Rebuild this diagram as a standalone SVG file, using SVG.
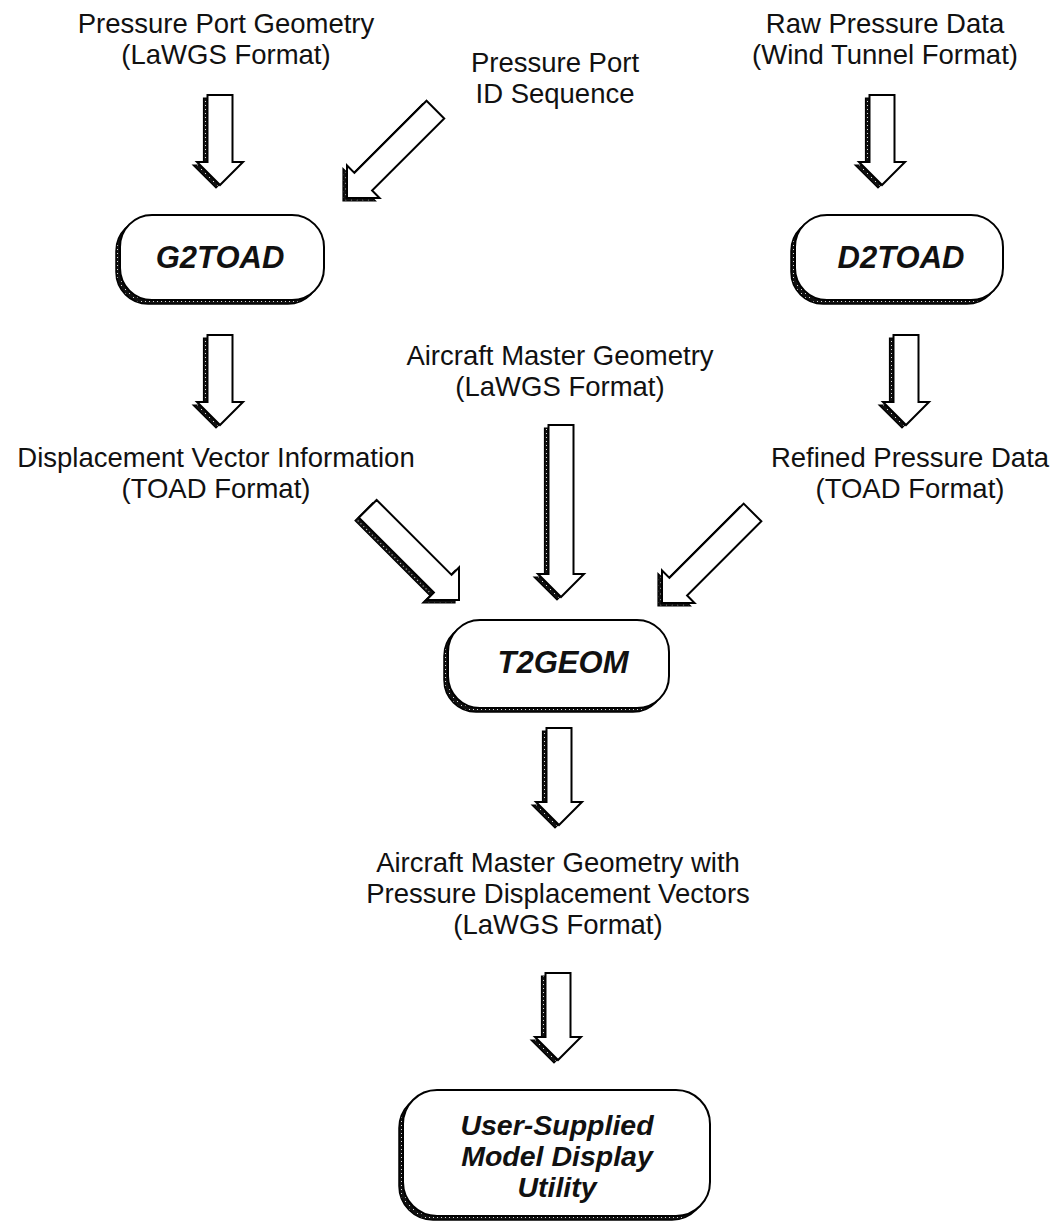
<svg xmlns="http://www.w3.org/2000/svg" width="1057" height="1224" viewBox="0 0 1057 1224">
  <defs>
    <pattern id="shade" width="4" height="4" patternUnits="userSpaceOnUse">
      <rect width="4" height="4" fill="#111"/>
      <rect x="1" y="1" width="1" height="1" fill="#ddd"/>
    </pattern>
  </defs>
  <style>
    .lbl { font-family: "Liberation Sans", Arial, Helvetica, sans-serif; font-size: 27.5px; fill: #111; text-anchor: middle; }
    .proc { font-family: "Liberation Sans", Arial, Helvetica, sans-serif; font-size: 31px; font-weight: bold; font-style: italic; fill: #111; text-anchor: middle; }
    .proc2 { font-family: "Liberation Sans", Arial, Helvetica, sans-serif; font-size: 28.5px; font-weight: bold; font-style: italic; fill: #111; text-anchor: middle; }
    .shadow { fill: url(#shade); stroke: #000; stroke-width: 1.5; }
    .box { fill: #fff; stroke: #000; stroke-width: 2; }
    .ashadow { fill: url(#shade); stroke: #000; stroke-width: 1.2; }
    .arrow { fill: #fff; stroke: #000; stroke-width: 2; stroke-linejoin: miter; }
  </style>
  <rect width="1057" height="1224" fill="#fff"/>

  <!-- data labels -->
  <g id="label-pressure-port-geometry">
    <text class="lbl" x="226" y="33">Pressure Port Geometry</text>
    <text class="lbl" x="226" y="64">(LaWGS Format)</text>
  </g>
  <g id="label-port-id-sequence">
    <text class="lbl" x="555" y="72">Pressure Port</text>
    <text class="lbl" x="555" y="103">ID Sequence</text>
  </g>
  <g id="label-raw-pressure-data">
    <text class="lbl" x="885" y="33">Raw Pressure Data</text>
    <text class="lbl" x="885" y="64">(Wind Tunnel Format)</text>
  </g>
  <g id="label-aircraft-master-geometry">
    <text class="lbl" x="560" y="365">Aircraft Master Geometry</text>
    <text class="lbl" x="560" y="396">(LaWGS Format)</text>
  </g>
  <g id="label-displacement-vector">
    <text class="lbl" x="216" y="467">Displacement Vector Information</text>
    <text class="lbl" x="216" y="498">(TOAD Format)</text>
  </g>
  <g id="label-refined-pressure-data">
    <text class="lbl" x="910" y="467">Refined Pressure Data</text>
    <text class="lbl" x="910" y="498">(TOAD Format)</text>
  </g>
  <g id="label-master-with-vectors">
    <text class="lbl" x="558" y="872">Aircraft Master Geometry with</text>
    <text class="lbl" x="558" y="903">Pressure Displacement Vectors</text>
    <text class="lbl" x="558" y="934">(LaWGS Format)</text>
  </g>

  <!-- process nodes -->
  <g id="node-g2toad">
    <rect class="shadow" x="116" y="219" width="204" height="85" rx="32"/>
    <rect class="box" x="120" y="215" width="204" height="85" rx="32"/>
    <text class="proc" x="220" y="268">G2TOAD</text>
  </g>
  <g id="node-d2toad">
    <rect class="shadow" x="791" y="219" width="208" height="85" rx="32"/>
    <rect class="box" x="795" y="215" width="208" height="85" rx="32"/>
    <text class="proc" x="901" y="268">D2TOAD</text>
  </g>
  <g id="node-t2geom">
    <rect class="shadow" x="444" y="624" width="221" height="88" rx="32"/>
    <rect class="box" x="448" y="620" width="221" height="88" rx="32"/>
    <text class="proc" x="563" y="673">T2GEOM</text>
  </g>
  <g id="node-display-utility">
    <rect class="shadow" x="399" y="1094" width="307" height="126" rx="34"/>
    <rect class="box" x="403" y="1090" width="307" height="126" rx="34"/>
    <text class="proc2" x="557" y="1135">User-Supplied</text>
    <text class="proc2" x="557" y="1166">Model Display</text>
    <text class="proc2" x="557" y="1197">Utility</text>
  </g>

  <!-- connectors: hollow block arrows, tip at local origin pointing +y -->
  <g id="connectors">
    <g transform="translate(220,185)">
      <path class="ashadow" transform="translate(-4,3)" d="M-12.5,-90 L12.5,-90 L12.5,-23 L23,-23 L0,0 L-23,-23 L-12.5,-23 Z"/>
      <path class="arrow" d="M-12.5,-90 L12.5,-90 L12.5,-23 L23,-23 L0,0 L-23,-23 L-12.5,-23 Z"/>
    </g>
    <g transform="translate(347,198) rotate(45)">
      <path class="ashadow" transform="rotate(-45) translate(-4,3) rotate(45)" d="M-12.5,-125 L12.5,-125 L12.5,-23 L23,-23 L0,0 L-23,-23 L-12.5,-23 Z"/>
      <path class="arrow" d="M-12.5,-125 L12.5,-125 L12.5,-23 L23,-23 L0,0 L-23,-23 L-12.5,-23 Z"/>
    </g>
    <g transform="translate(882,185)">
      <path class="ashadow" transform="translate(-4,3)" d="M-12.5,-90 L12.5,-90 L12.5,-23 L23,-23 L0,0 L-23,-23 L-12.5,-23 Z"/>
      <path class="arrow" d="M-12.5,-90 L12.5,-90 L12.5,-23 L23,-23 L0,0 L-23,-23 L-12.5,-23 Z"/>
    </g>
    <g transform="translate(220,425)">
      <path class="ashadow" transform="translate(-4,3)" d="M-12.5,-90 L12.5,-90 L12.5,-23 L23,-23 L0,0 L-23,-23 L-12.5,-23 Z"/>
      <path class="arrow" d="M-12.5,-90 L12.5,-90 L12.5,-23 L23,-23 L0,0 L-23,-23 L-12.5,-23 Z"/>
    </g>
    <g transform="translate(906,425)">
      <path class="ashadow" transform="translate(-4,3)" d="M-12.5,-90 L12.5,-90 L12.5,-23 L23,-23 L0,0 L-23,-23 L-12.5,-23 Z"/>
      <path class="arrow" d="M-12.5,-90 L12.5,-90 L12.5,-23 L23,-23 L0,0 L-23,-23 L-12.5,-23 Z"/>
    </g>
    <g transform="translate(561,597)">
      <path class="ashadow" transform="translate(-4,3)" d="M-12.5,-172 L12.5,-172 L12.5,-23 L23,-23 L0,0 L-23,-23 L-12.5,-23 Z"/>
      <path class="arrow" d="M-12.5,-172 L12.5,-172 L12.5,-23 L23,-23 L0,0 L-23,-23 L-12.5,-23 Z"/>
    </g>
    <g transform="translate(459,600) rotate(-45)">
      <path class="ashadow" transform="rotate(45) translate(-4,3) rotate(-45)" d="M-12.5,-129 L12.5,-129 L12.5,-23 L23,-23 L0,0 L-23,-23 L-12.5,-23 Z"/>
      <path class="arrow" d="M-12.5,-129 L12.5,-129 L12.5,-23 L23,-23 L0,0 L-23,-23 L-12.5,-23 Z"/>
    </g>
    <g transform="translate(662,603) rotate(45)">
      <path class="ashadow" transform="rotate(-45) translate(-4,3) rotate(45)" d="M-12.5,-128 L12.5,-128 L12.5,-23 L23,-23 L0,0 L-23,-23 L-12.5,-23 Z"/>
      <path class="arrow" d="M-12.5,-128 L12.5,-128 L12.5,-23 L23,-23 L0,0 L-23,-23 L-12.5,-23 Z"/>
    </g>
    <g transform="translate(559,825)">
      <path class="ashadow" transform="translate(-4,3)" d="M-12.5,-97 L12.5,-97 L12.5,-23 L23,-23 L0,0 L-23,-23 L-12.5,-23 Z"/>
      <path class="arrow" d="M-12.5,-97 L12.5,-97 L12.5,-23 L23,-23 L0,0 L-23,-23 L-12.5,-23 Z"/>
    </g>
    <g transform="translate(558,1060)">
      <path class="ashadow" transform="translate(-4,3)" d="M-12.5,-87 L12.5,-87 L12.5,-23 L23,-23 L0,0 L-23,-23 L-12.5,-23 Z"/>
      <path class="arrow" d="M-12.5,-87 L12.5,-87 L12.5,-23 L23,-23 L0,0 L-23,-23 L-12.5,-23 Z"/>
    </g>
  </g>
</svg>
